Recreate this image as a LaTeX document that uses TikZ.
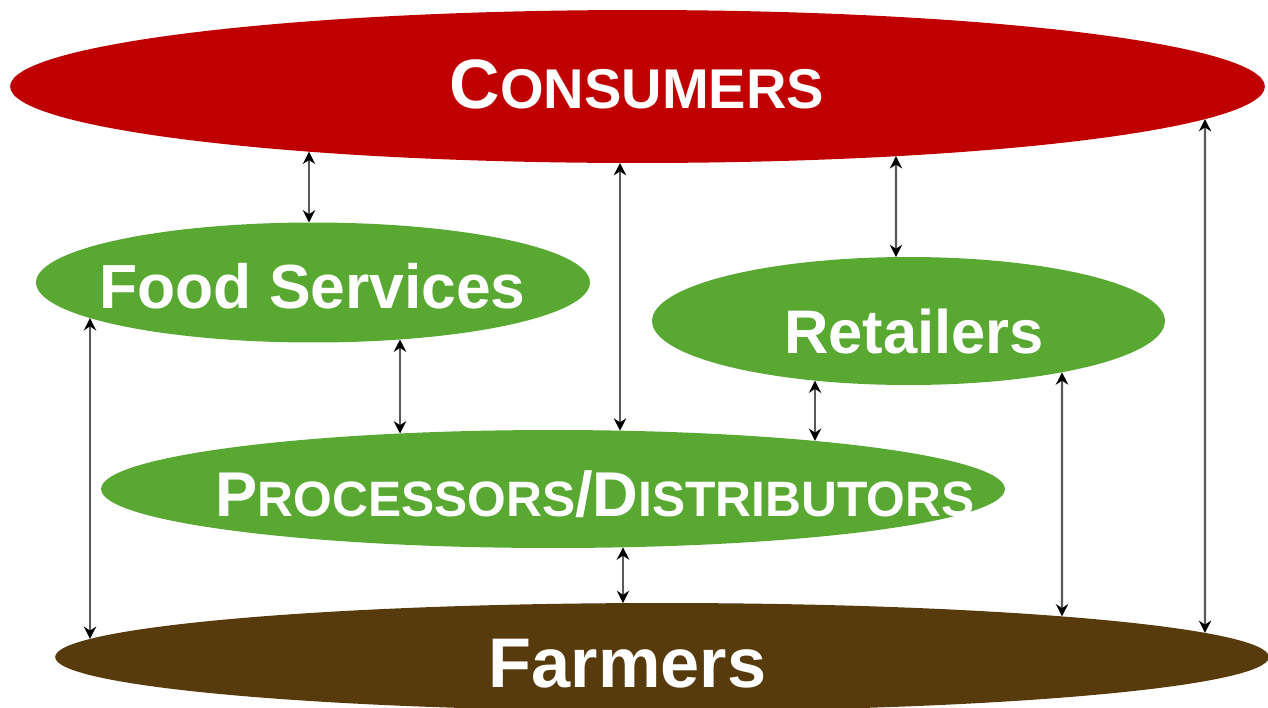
\documentclass[tikz,border=0pt]{standalone}
\usepackage{fontspec}
\setmainfont{Liberation Sans}
\usepackage{xcolor}
\definecolor{ColRed}{RGB}{192,0,0}
\definecolor{ColGreen}{RGB}{88,168,50}
\definecolor{ColBrown}{RGB}{88,59,13}
\usepackage{tikz}
\usetikzlibrary{shapes.geometric}
\usetikzlibrary{arrows.meta}
\usetikzlibrary{calc}
\tikzstyle{Blob}=[ellipse,inner sep=0pt,outer sep=0pt]
\tikzstyle{BlobRed}=[Blob,fill=ColRed]
\tikzstyle{BlobGreen}=[Blob,fill=ColGreen]
\tikzstyle{BlobBrown}=[Blob,fill=ColBrown]
\tikzstyle{Word}=[text=white,inner sep=0pt,anchor=base,font=\bfseries]
\tikzstyle{Edge}=[draw=black!65,line width=1.3pt,
{Stealth[length=7pt,width=7pt,black]}-{Stealth[length=7pt,width=7pt,black]}]
\newcommand{\Sz}[2]{{\fontsize{#1}{#1}\selectfont#2}}

\begin{document}
\begin{tikzpicture}[x=0.02cm,y=-0.02cm]
        \useasboundingbox(0,0)rectangle(1268,707);
        \node[BlobRed,minimum width=25.1cm,minimum height=3.06cm](Cons)
            at(637.5,86.5){};
        \node[BlobGreen,minimum width=11.08cm,minimum height=2.4cm](Food)
            at(313,282.5){};
        \node[BlobGreen,minimum width=10.26cm,minimum height=2.56cm](Ret)
            at(908.5,321){};
        \node[BlobGreen,minimum width=18.08cm,minimum height=2.36cm](Proc)
            at(553,489){};
        \node[BlobBrown,minimum width=24.28cm,minimum height=2.16cm](Farm)
            at(662,657){};
        \node[Word](ConsT)at(637,108)
            {\Sz{39.8pt}{C}\Sz{31.9pt}{ONSUMERS}};
        \node[Word](FoodT)at(312.5,308){\Sz{35.5pt}{Food Services}};
        \node[Word](RetT)at(914,353){\Sz{35pt}{Retailers}};
        \node[Word](ProcT)at(595,516)
            {\Sz{36pt}{P}\Sz{28.3pt}{ROCESSORS}\Sz{36pt}{/D}\Sz{28.3pt}{ISTRIBUTORS}};
        \node[Word](FarmT)at(627.5,687){\Sz{40pt}{Farmers}};
        \draw[Edge]($(Cons)+(-328.5,65.2)$)--($(Food)+(-4,-60)$);
        \draw[Edge]($(Cons)+(-17.5,76.5)$)--($(Proc)+(67,-58.3)$);
        \draw[Edge]($(Cons)+(258.5,69.7)$)--($(Ret)+(-12.5,-63.9)$);
        \draw[Edge]($(Cons)+(567.5,32.6)$)--($(Farm)+(543,-24.1)$);
        \draw[Edge]($(Food)+(-223,35.6)$)--($(Farm)+(-572,-18.1)$);
        \draw[Edge]($(Food)+(87,57)$)--($(Proc)+(-153,-55.5)$);
        \draw[Edge]($(Ret)+(-93.5,59.6)$)--($(Proc)+(262,-48.1)$);
        \draw[Edge]($(Ret)+(153.5,51.3)$)--($(Farm)+(400,-40.6)$);
        \draw[Edge]($(Proc)+(70,58.3)$)--($(Farm)+(-39,-53.9)$);
    \end{tikzpicture}
\end{document}
